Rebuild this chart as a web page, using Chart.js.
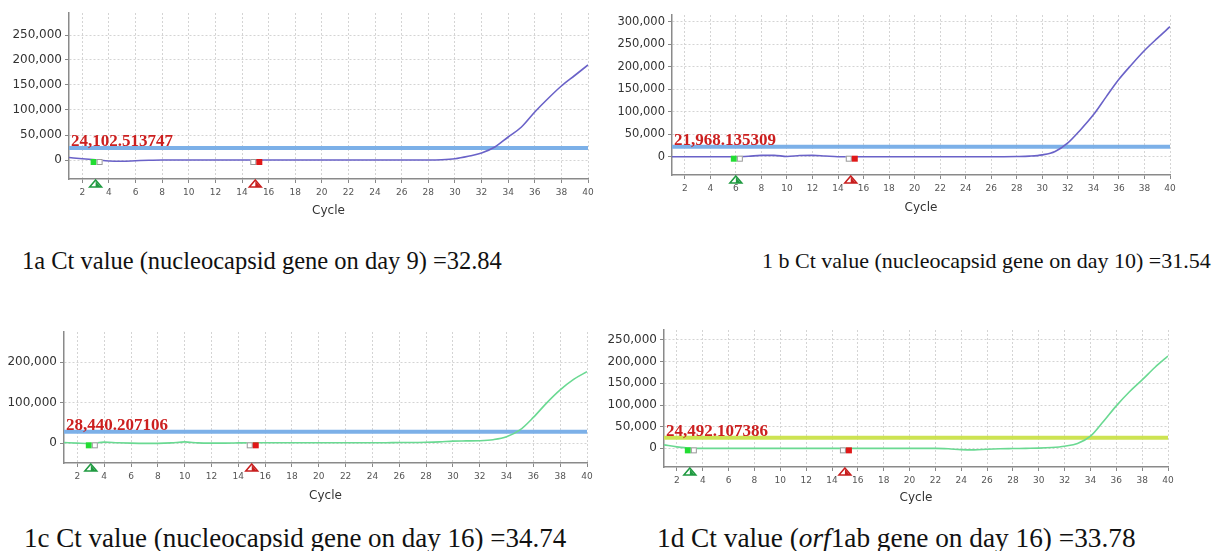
<!DOCTYPE html>
<html>
<head>
<meta charset="utf-8">
<script src="https://cdn.jsdelivr.net/npm/chart.js@4.4.1/dist/chart.umd.min.js"></script>
<style>
  body { margin: 0; background: #fff; }
  #wrap { position: relative; width: 1215px; height: 551px; overflow: hidden; background: #fff; }
  #wrap canvas { position: absolute; }
  .cap { position: absolute; font-family: "Liberation Serif", "Times New Roman", serif; color: #111; white-space: nowrap; line-height: 1; }
</style>
</head>
<body>
<div id="wrap">
  <canvas id="c1a"></canvas>
  <canvas id="c1b"></canvas>
  <canvas id="c1c"></canvas>
  <canvas id="c1d"></canvas>
  <div class="cap" id="cap1a"></div>
  <div class="cap" id="cap1b"></div>
  <div class="cap" id="cap1c"></div>
  <div class="cap" id="cap1d"></div>
</div>
<script>
// amplification curves, fluorescence per cycle
const cycles = [1, 2, 3, 4, 5, 6, 7, 8, 9, 10, 11, 12, 13, 14, 15, 16, 17, 18, 19, 20,
                21, 22, 23, 24, 25, 26, 27, 28, 29, 30, 31, 32, 33, 34, 35, 36, 37, 38, 39, 40];
const xTicks = [2, 4, 6, 8, 10, 12, 14, 16, 18, 20, 22, 24, 26, 28, 30, 32, 34, 36, 38, 40];

const fluor1a = [5000, 2500, 500, -2000, -2500, -1500, -500, 0,
                 0, 0, 0, 0, 0, 0, 0, 0, 0, 0, 0, 0, 0, 0, 0, 0, 0, 0, 0, 0,
                 500, 2500, 7500, 14000, 26000, 46000, 66000, 96000, 123000, 148000, 169000, 190000];
const fluor1b = [0, 0, 0, 0, 0, 0, 1000, 3000, 3000, 500, 2500, 3000, 1500, 0,
                 0, 0, 0, 0, 0, 0, 0, 0, 0, 0, 0, 0, 0,
                 300, 1200, 4000, 11500, 30500, 60000, 93000, 133000, 172000, 205000, 236000, 263000, 289000];
const fluor1c = [2000, 500, -500, 3000, 1500, 500, 0, 0, 1000, 3500, 1000, 500, 500, 1000, 1500,
                 1500, 1500, 1500, 1500, 1500, 1500, 1500, 1500, 1500, 1500,
                 2000, 2000, 2500, 3500, 5500, 6000, 6500, 9000, 16000, 33000, 64000, 100000, 132000, 158000, 177000];
const fluor1d = [8000, 3500, 500, 0,
                 0, 0, 0, 0, 0, 0, 0, 0, 0, 0, 0, 0, 0, 0, 0, 0, 0, 0,
                 -1000, -3000, -3500, -2000, -1000, -500, 0, 500, 2000, 5000, 11000, 28000, 62000, 98000, 130000, 158000, 187000, 213000];

const thresholds = [24102.513747, 21968.135309, 28440.207106, 24492.107386];
const baselineStart = [3, 6, 3, 3];
const baselineEnd = [15, 15, 15, 15];

const yTicks1a = [0, 50000, 100000, 150000, 200000, 250000];
const yTicks1b = [0, 50000, 100000, 150000, 200000, 250000, 300000];
const yTicks1c = [0, 100000, 200000];
const yTicks1d = [0, 50000, 100000, 150000, 200000, 250000];

const captions = [
  '1a Ct value (nucleocapsid gene on day 9) =32.84',
  '1 b Ct value (nucleocapsid gene on day 10) =31.54',
  '1c Ct value (nucleocapsid gene on day 16) =34.74',
  '1d Ct value (<i>orf</i>1ab gene on day 16) =33.78'
];

// layout: canvas box and plot box (left, top, right, bottom) in page pixels
const panels = [
  { id: 'c1a', cap: 'cap1a', values: fluor1a, yTicks: yTicks1a, yMin: -38000, yMax: 294000,
    box: [0, 0, 600, 226], plot: [69, 13, 588, 179], titleY: 211, yFont: 12,
    line: '#6a62c8', thr: '#7cb0e8', capX: 22, capY: 262, capSize: 24.5 },
  { id: 'c1b', cap: 'cap1b', values: fluor1b, yTicks: yTicks1b, yMin: -40700, yMax: 315000,
    box: [605, 0, 1215, 226], plot: [672, 15, 1170, 175], titleY: 208, yFont: 11.5,
    line: '#6a62c8', thr: '#7cb0e8', capX: 762, capY: 262, capSize: 22 },
  { id: 'c1c', cap: 'cap1c', values: fluor1c, yTicks: yTicks1c, yMin: -48600, yMax: 275000,
    box: [0, 318, 600, 512], plot: [64, 332, 587, 463], titleY: 496, yFont: 12,
    line: '#6ad992', thr: '#7cb0e8', capX: 24, capY: 540, capSize: 27 },
  { id: 'c1d', cap: 'cap1d', values: fluor1d, yTicks: yTicks1d, yMin: -43000, yMax: 273000,
    box: [605, 318, 1215, 512], plot: [664, 330, 1168, 467], titleY: 498, yFont: 12,
    line: '#6ad992', thr: '#cde352', capX: 657, capY: 540, capSize: 27.3 }
];

function square(ctx, x, y, fill, stroke) {
  ctx.fillStyle = fill;
  ctx.fillRect(x, y, 6, 6);
  if (stroke) { ctx.strokeStyle = stroke; ctx.lineWidth = 1; ctx.strokeRect(x + 0.5, y + 0.5, 5, 5); }
}
function triangle(ctx, x, y, color) {
  ctx.beginPath();
  ctx.moveTo(x, y);
  ctx.lineTo(x + 6, y + 7);
  ctx.lineTo(x - 6, y + 7);
  ctx.closePath();
  ctx.fillStyle = '#fff';
  ctx.fill();
  ctx.strokeStyle = color;
  ctx.lineWidth = 1.5;
  ctx.stroke();
  ctx.beginPath();
  ctx.moveTo(x, y + 1);
  ctx.lineTo(x + 5, y + 7);
  ctx.lineTo(x, y + 7);
  ctx.closePath();
  ctx.fillStyle = color;
  ctx.fill();
}

const qpcrMarks = {
  id: 'qpcr',
  afterDatasetsDraw(chart, args, o) {
    const { ctx, chartArea, scales: { x, y } } = chart;
    const y0 = y.getPixelForValue(0);
    const ty = y.getPixelForValue(o.threshold);
    const xs = x.getPixelForValue(o.start);
    const xe = x.getPixelForValue(o.end);
    ctx.save();
    square(ctx, xs - 5, y0 - 1, '#22dd33');
    square(ctx, xs + 1, y0 - 1, '#fff', '#999');
    square(ctx, xe - 5, y0 - 1, '#fff', '#999');
    square(ctx, xe + 1, y0 - 1, '#e01818');
    triangle(ctx, xs, chartArea.bottom + 1, '#1f9a40');
    triangle(ctx, xe, chartArea.bottom + 1, '#c81e1e');
    ctx.font = 'bold 17px "Liberation Serif", serif';
    ctx.fillStyle = '#cc1f1f';
    ctx.textBaseline = 'alphabetic';
    ctx.fillText(o.label, chartArea.left + 2, ty - 2);
    ctx.restore();
  }
};

panels.forEach(function (p, i) {
  const cv = document.getElementById(p.id);
  const [cl, ct, cr, cb] = p.box;
  const [pl, pt, pr, pb] = p.plot;
  cv.width = cr - cl;
  cv.height = cb - ct;
  cv.style.left = cl + 'px';
  cv.style.top = ct + 'px';

  const t = thresholds[i];
  new Chart(cv, {
    type: 'line',
    data: {
      datasets: [{
        data: cycles.map((c, k) => ({ x: c, y: p.values[k] })),
        borderColor: p.line,
        borderWidth: 1.6,
        pointRadius: 0,
        cubicInterpolationMode: 'monotone',
        fill: false
      }, {
        data: [{ x: cycles[0], y: t }, { x: cycles[cycles.length - 1], y: t }],
        borderColor: p.thr,
        borderWidth: 4,
        pointRadius: 0,
        fill: false
      }]
    },
    options: {
      responsive: false,
      animation: false,
      layout: { padding: { top: pt - ct, right: cr - pr, left: 0, bottom: 0 } },
      plugins: {
        legend: { display: false },
        tooltip: { enabled: false },
        qpcr: {
          threshold: t,
          start: baselineStart[i],
          end: baselineEnd[i],
          label: t.toLocaleString('en-US', { minimumFractionDigits: 6, maximumFractionDigits: 6 })
        }
      },
      scales: {
        x: {
          type: 'linear',
          min: cycles[0],
          max: cycles[cycles.length - 1],
          afterBuildTicks: s => { s.ticks = xTicks.map(v => ({ value: v })); },
          afterFit: s => { s.height = cb - pb; },
          grid: { color: '#d4d4d4', tickLength: 4, tickColor: '#888' },
          border: { color: '#8a8a8a', width: 1.5, dash: [2, 2] },
          ticks: { autoSkip: false, maxRotation: 0, padding: 4, color: '#555',
                   font: { family: '"DejaVu Sans", sans-serif', size: 9 } },
          title: { display: true, text: 'Cycle', color: '#333',
                   font: { family: '"DejaVu Sans", sans-serif', size: 12 },
                   padding: { top: 0, bottom: Math.max(0, cb - p.titleY - 7.2) } }
        },
        y: {
          min: p.yMin,
          max: p.yMax,
          afterBuildTicks: s => { s.ticks = p.yTicks.map(v => ({ value: v })); },
          afterFit: s => { s.width = pl - cl; },
          grid: { color: '#d4d4d4', tickLength: 4, tickColor: '#888' },
          border: { color: '#8a8a8a', width: 1.5, dash: [2, 2] },
          ticks: { padding: 3, color: '#333',
                   font: { family: '"DejaVu Sans", sans-serif', size: p.yFont },
                   callback: v => v.toLocaleString('en-US') }
        }
      }
    },
    plugins: [qpcrMarks]
  });

  const cap = document.getElementById(p.cap);
  cap.innerHTML = captions[i];
  cap.style.left = p.capX + 'px';
  cap.style.fontSize = p.capSize + 'px';
  cap.style.top = (p.capY - p.capSize * 0.55) + 'px';
});
</script>
</body>
</html>
